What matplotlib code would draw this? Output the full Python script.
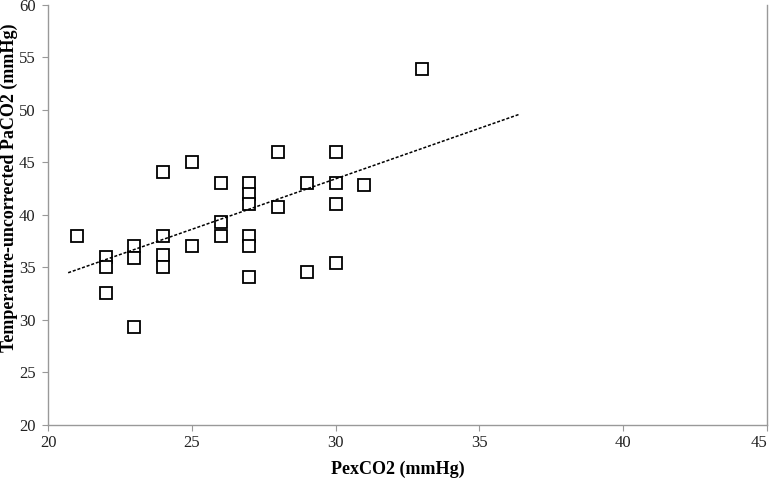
import matplotlib.pyplot as plt

# PexCO2 vs temperature-uncorrected PaCO2
pex_co2 = [21, 22, 22, 22, 23, 23, 23, 24, 24, 24, 24, 25, 25,
           26, 26, 26, 27, 27, 27, 27, 27, 27, 28, 28, 29, 29,
           30, 30, 30, 30, 31, 33]
pa_co2 = [38, 36, 35, 32.6, 37, 35.9, 29.3, 44.1, 38, 36.2, 35, 45, 37,
          43, 39.3, 38, 43, 42, 41, 38, 37, 34.1, 46, 40.8, 43, 34.6,
          46, 43, 41, 35.4, 42.9, 53.9]

# regression line end points
fit_x = [20.7, 36.4]
fit_y = [34.5, 49.6]

plt.rcParams['font.family'] = ['Liberation Serif', 'DejaVu Serif']

fig = plt.figure(figsize=(7.71, 4.84), dpi=100)
ax = fig.add_axes([0.0623, 0.1219, 0.9325, 0.8678])

ax.plot(pex_co2, pa_co2, linestyle='none', marker='s', markersize=9,
        markerfacecolor='white', markeredgecolor='black', markeredgewidth=1.3)
ax.plot(fit_x, fit_y, color='black', linestyle=(0, (2, 1.2)), linewidth=1.1)

ax.set_xlim(20, 45)
ax.set_ylim(20, 60)
ax.set_xticks([20, 25, 30, 35, 40, 45])
ax.set_yticks([20, 25, 30, 35, 40, 45, 50, 55, 60])

ax.spines['top'].set_visible(False)
for side in ['left', 'bottom', 'right']:
    ax.spines[side].set_color('#999999')
    ax.spines[side].set_linewidth(1.0)
ax.tick_params(axis='both', colors='#999999', labelcolor='#222222',
               labelsize=12, length=4, direction='out')
ax.tick_params(axis='x', pad=3)
ax.tick_params(axis='y', pad=5)

# keep the last x label inside the picture
xlabels = ax.get_xticklabels()
xlabels[-1].set_horizontalalignment('right')

ax.set_xlabel('PexCO2 (mmHg)', fontsize=13, fontweight='bold')
ax.set_ylabel('Temperature-uncorrected PaCO2 (mmHg)', fontsize=13,
              fontweight='bold')
ax.xaxis.set_label_coords(0.486, -0.085)
ax.yaxis.set_label_coords(-0.042, 0.565)

fig.savefig('out.png', dpi=100)
